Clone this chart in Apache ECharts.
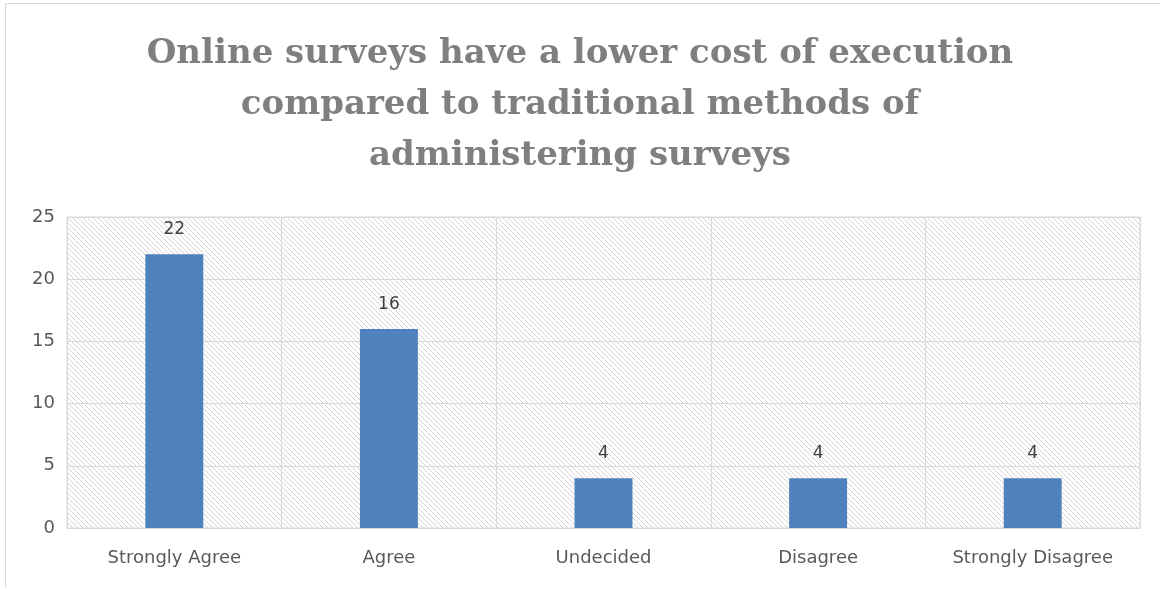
<!DOCTYPE html>
<html>
<head>
<meta charset="utf-8">
<script src="https://cdn.jsdelivr.net/npm/echarts@6/dist/echarts.min.js"></script>
<style>
html,body{margin:0;padding:0;background:#fff;}
#wrap{position:relative;width:1160px;height:590px;overflow:hidden;}
#frame{position:absolute;left:5px;top:3px;width:1200px;height:584px;border-top:1px solid #d9d9d9;border-left:1px solid #d9d9d9;}
#chart{position:absolute;left:0;top:0;width:1160px;height:590px;}
</style>
</head>
<body>
<div id="wrap"><div id="frame"></div><div id="chart"></div></div>
<script>
var categories = ['Strongly Agree', 'Agree', 'Undecided', 'Disagree', 'Strongly Disagree'];
var values = [22, 16, 4, 4, 4];
var titleText = 'Online surveys have a lower cost of execution\ncompared to traditional methods of\nadministering surveys';

function hatch() {
  var s = 5;
  var c = document.createElement('canvas');
  c.width = s; c.height = s;
  var g = c.getContext('2d');
  g.fillStyle = '#ffffff';
  g.fillRect(0, 0, s, s);
  g.strokeStyle = '#d4d4d4';
  g.lineWidth = 1;
  g.beginPath();
  g.moveTo(-1, -1); g.lineTo(s + 1, s + 1);
  g.moveTo(-1, s - 1); g.lineTo(1, s + 1);
  g.moveTo(s - 1, -1); g.lineTo(s + 1, 1);
  g.stroke();
  return c;
}

var chart = echarts.init(document.getElementById('chart'), null, {renderer: 'canvas'});
chart.setOption({
  animation: false,
  title: {
    text: titleText,
    left: 'center',
    top: 24,
    textStyle: {
      fontFamily: 'DejaVu Serif',
      fontWeight: 'bold',
      fontSize: 34,
      lineHeight: 51,
      color: '#7f7f7f'
    }
  },
  grid: {
    left: 67, right: 20, top: 217, bottom: 62,
    show: true,
    backgroundColor: {image: hatch(), repeat: 'repeat'},
    borderColor: '#d9d9d9',
    borderWidth: 1
  },
  xAxis: {
    type: 'category',
    data: categories,
    axisTick: {show: false},
    axisLine: {show: true, lineStyle: {color: '#d9d9d9'}},
    splitLine: {show: true, lineStyle: {color: '#d9d9d9', width: 1}},
    axisLabel: {
      color: '#595959',
      fontFamily: 'DejaVu Sans',
      fontSize: 18,
      margin: 21
    }
  },
  yAxis: {
    type: 'value',
    min: 0, max: 25, interval: 5,
    axisLine: {show: false},
    axisTick: {show: false},
    splitLine: {lineStyle: {color: '#d9d9d9', width: 1}},
    axisLabel: {
      color: '#595959',
      fontFamily: 'DejaVu Sans',
      fontSize: 18,
      margin: 12
    }
  },
  series: [{
    type: 'bar',
    data: values,
    barWidth: '27%',
    itemStyle: {color: '#4f81bd'},
    label: {
      show: true,
      position: 'top',
      distance: 16,
      color: '#404040',
      fontFamily: 'DejaVu Sans',
      fontSize: 17
    }
  }]
});
</script>
</body>
</html>
